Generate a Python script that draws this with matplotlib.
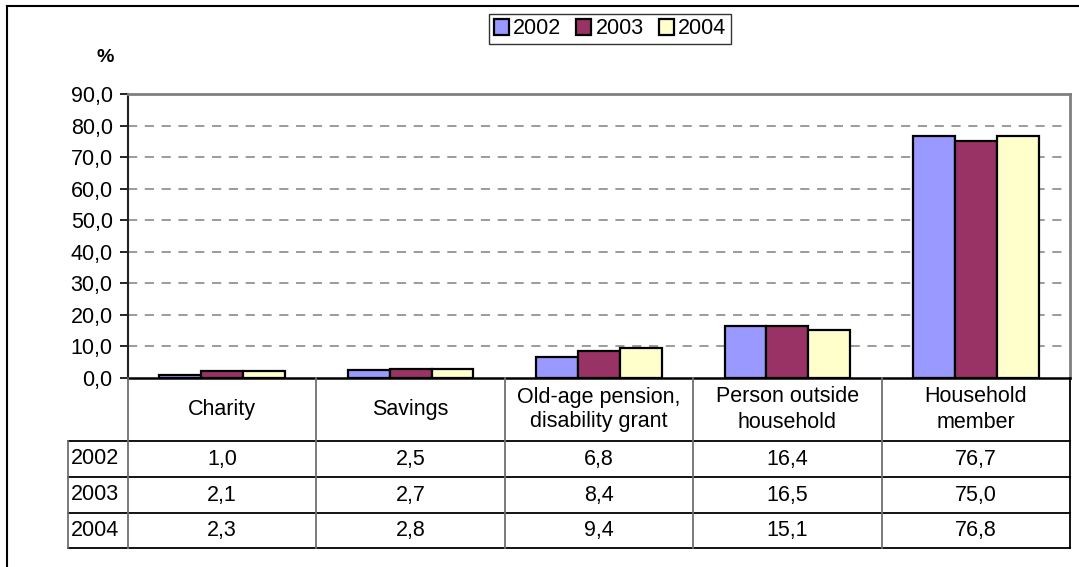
import matplotlib
matplotlib.use("Agg")
import matplotlib.pyplot as plt
from matplotlib.patches import Patch
from matplotlib.lines import Line2D
import numpy as np

plt.rcParams['font.family'] = ['Liberation Sans', 'DejaVu Sans']

categories = ["Charity", "Savings", "Old-age pension,\ndisability grant",
              "Person outside\nhousehold", "Household\nmember"]
years = ["2002", "2003", "2004"]
v2002 = [1.0, 2.5, 6.8, 16.4, 76.7]
v2003 = [2.1, 2.7, 8.4, 16.5, 75.0]
v2004 = [2.3, 2.8, 9.4, 15.1, 76.8]
series = [v2002, v2003, v2004]
colors = ["#9999FF", "#993366", "#FFFFCC"]
yticks = [0, 10, 20, 30, 40, 50, 60, 70, 80, 90]

W, H = 1079, 567
fig = plt.figure(figsize=(W / 100, H / 100), dpi=100)

def fx(x):
    return x / W

def fy(y):
    return 1 - y / H

L, R, T, B = 128, 1070, 94, 378
ax = fig.add_axes([fx(L), fy(B), fx(R - L), (B - T) / H])

n = len(categories)
x = np.arange(n)
w = 1 / 4.5
for k, (vals, c) in enumerate(zip(series, colors)):
    ax.bar(x + (k - 1) * w, vals, width=w, color=c, edgecolor="black",
           linewidth=1.6, zorder=3)

ax.set_xlim(-0.5, n - 0.5)
ax.set_ylim(0, 90)
ax.set_yticks(yticks)
ax.set_yticklabels([f"{v:.1f}".replace(".", ",") for v in yticks], fontsize=15.5)
ax.set_xticks([])
ax.tick_params(axis="y", direction="out", length=6, width=1.2, pad=5)
for v in yticks[1:-1]:
    ax.axhline(v, color="#808080", lw=1.1, dashes=(6, 5), zorder=1)
ax.spines["left"].set_color("#222222")
ax.spines["left"].set_linewidth(1.5)
ax.spines["bottom"].set_color("black")
ax.spines["bottom"].set_linewidth(1.8)
ax.spines["top"].set_color("#808080")
ax.spines["top"].set_linewidth(2)
ax.spines["right"].set_color("#808080")
ax.spines["right"].set_linewidth(2)

fig.text(fx(105), fy(58), "%", fontsize=14, fontweight="bold",
         ha="center", va="center")

# outer frame
fig.add_artist(Line2D([fx(7), fx(W + 5)], [fy(6), fy(6)], color="black", lw=1.5))
fig.add_artist(Line2D([fx(7), fx(7)], [fy(6), fy(H + 5)], color="black", lw=1.5))

# data table
colw = (R - L) / n
row_y = [441, 477, 513, 548]
lab_left = 68

def hline(y, x0, x1, c="black"):
    fig.add_artist(Line2D([fx(x0), fx(x1)], [fy(y), fy(y)], color=c, lw=1.3))

def vline(xp, y0, y1, c="#707070"):
    fig.add_artist(Line2D([fx(xp), fx(xp)], [fy(y0), fy(y1)], color=c, lw=1.3))

for y in row_y:
    hline(y, lab_left, R)
vline(lab_left, row_y[0], row_y[-1])
for i in range(n + 1):
    vline(L + i * colw, B, row_y[-1], c="#707070" if i < n else "black")

for i, cat in enumerate(categories):
    fig.text(fx(L + (i + 0.5) * colw), fy((B + row_y[0]) / 2), cat,
             fontsize=15.5, ha="center", va="center", linespacing=1.25)
for r, (yr, vals) in enumerate(zip(years, series)):
    yc = (row_y[r] + row_y[r + 1]) / 2
    fig.text(fx(lab_left + 3), fy(yc), yr, fontsize=15.5, ha="left", va="center")
    for i, v in enumerate(vals):
        fig.text(fx(L + (i + 0.5) * colw), fy(yc), f"{v:.1f}".replace(".", ","),
                 fontsize=15.5, ha="center", va="center")

handles = [Patch(facecolor=c, edgecolor="black", linewidth=1.6) for c in colors]
leg = fig.legend(handles, years, loc="center", bbox_to_anchor=(fx(610), fy(29)),
                 ncol=3, fontsize=15.5, frameon=True, fancybox=False,
                 handlelength=0.7, handleheight=0.7, handletextpad=0.2,
                 columnspacing=0.7, borderpad=0.2, borderaxespad=0)
leg.get_frame().set_edgecolor("black")
leg.get_frame().set_linewidth(1.0)

fig.savefig("out.png", dpi=100)
